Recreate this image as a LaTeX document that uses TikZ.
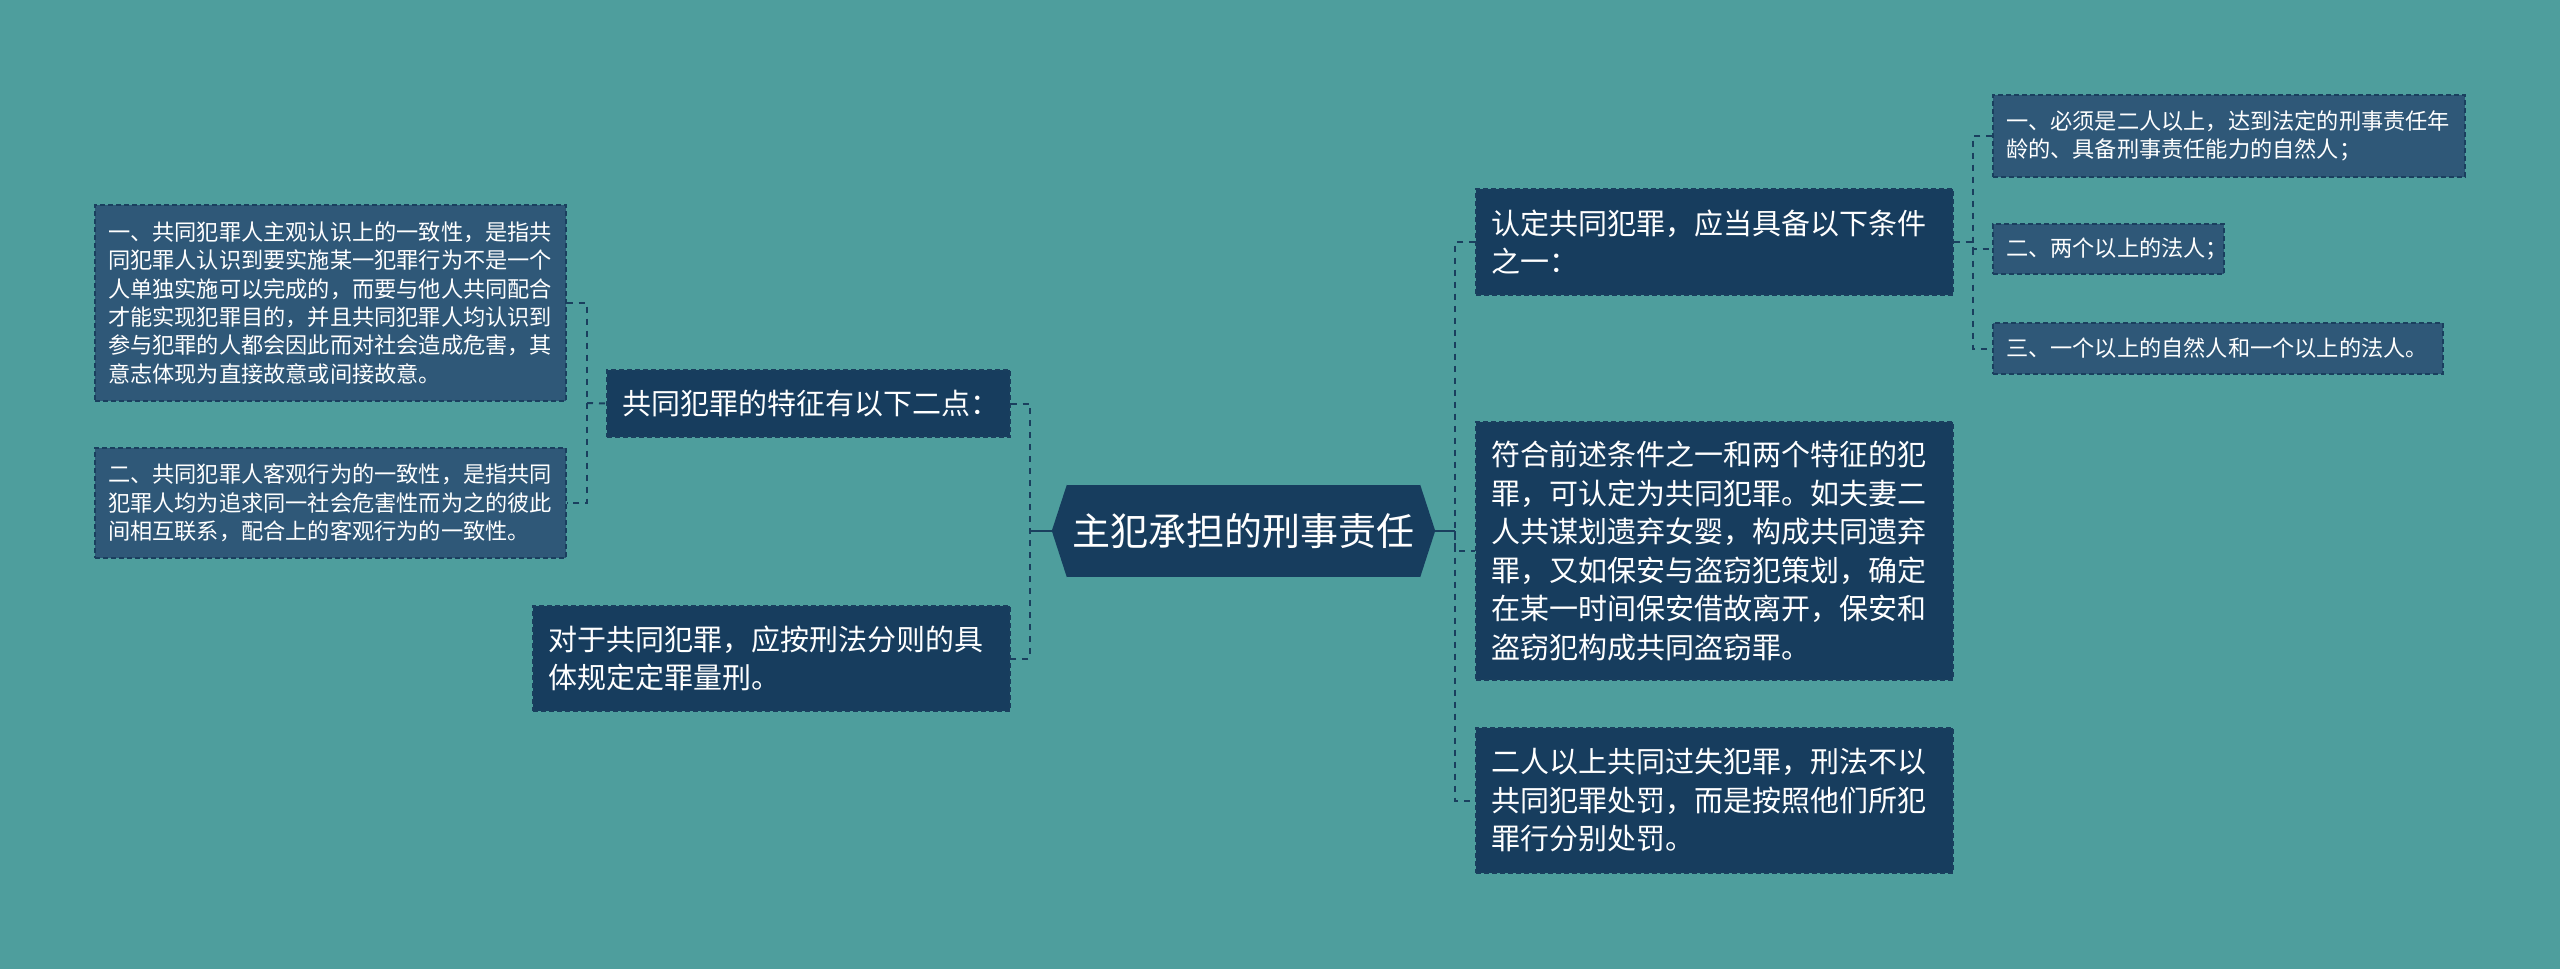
\documentclass[tikz,border=0pt]{standalone}
\usepackage{fontspec}
\setmainfont{Noto Sans CJK SC}

\definecolor{fondo}{HTML}{4E9E9D}
\definecolor{marino}{HTML}{173D5E}
\definecolor{hoja}{HTML}{2F5878}
\definecolor{linea}{HTML}{1A3F5E}

\begin{document}
\begin{tikzpicture}[x=1pt, y=-1pt,
    ramabox/.style={rectangle, fill=marino, draw=linea, line width=1.2pt, dash pattern=on 5pt off 3pt,
        text=white, align=left, inner xsep=15pt, inner ysep=0pt, font=\fontsize{29}{38.5}\selectfont},
    hojabox/.style={rectangle, fill=hoja, draw=linea, line width=1.2pt, dash pattern=on 5pt off 3pt,
        text=white, align=left, inner xsep=13pt, inner ysep=0pt, font=\fontsize{22.2}{28.3}\selectfont},
    enlace/.style={draw=linea, line width=2pt, dash pattern=on 6pt off 6pt},
    tronco/.style={draw=linea, line width=2.5pt}]

    % Fondo
    \fill[fondo] (0,0) rectangle (2560,969);
    \useasboundingbox (0,0) rectangle (2560,969);

    % Nodo central
    \node (root) [fill=marino, text=white, minimum width=353pt, minimum height=92pt, inner sep=0pt,
        font=\fontsize{38}{44}\selectfont] at (1243.5,531) {主犯承担的刑事责任};
    \fill[marino] (root.north west) -- ++(-15,46) -- (root.south west) -- cycle;
    \fill[marino] (root.north east) -- ++(15,46) -- (root.south east) -- cycle;
    \coordinate (rootL) at ([xshift=-15pt]root.west);
    \coordinate (rootR) at ([xshift=15pt]root.east);

    % Ramas izquierdas
    \node (rasgos) [ramabox, text width=373pt, minimum height=67pt] at (808.5,403.5) {共同犯罪的特征有以下二点：};
    \node (pena) [ramabox, text width=447pt, minimum height=105pt] at (771.5,658.5)
        {对于共同犯罪，应按刑法分则的具\\体规定定罪量刑。};

    % Hojas izquierdas
    \node (subj) [hojabox, text width=445pt, minimum height=196pt] at (330.5,303)
        {一、共同犯罪人主观认识上的一致性，是指共\\同犯罪人认识到要实施某一犯罪行为不是一个\\人单独实施可以完成的，而要与他人共同配合\\才能实现犯罪目的，并且共同犯罪人均认识到\\参与犯罪的人都会因此而对社会造成危害，其\\意志体现为直接故意或间接故意。};
    \node (obj) [hojabox, text width=445pt, minimum height=110pt] at (330.5,503)
        {二、共同犯罪人客观行为的一致性，是指共同\\犯罪人均为追求同一社会危害性而为之的彼此\\间相互联系，配合上的客观行为的一致性。};

    % Ramas derechas
    \node (cond) [ramabox, text width=447pt, minimum height=106pt] at (1714.5,242)
        {认定共同犯罪，应当具备以下条件\\之一：};
    \node (ejemplo) [ramabox, text width=447pt, minimum height=258pt] at (1714.5,551)
        {符合前述条件之一和两个特征的犯\\罪，可认定为共同犯罪。如夫妻二\\人共谋划遗弃女婴，构成共同遗弃\\罪，又如保安与盗窃犯策划，确定\\在某一时间保安借故离开，保安和\\盗窃犯构成共同盗窃罪。};
    \node (culpa) [ramabox, text width=447pt, minimum height=145pt] at (1714.5,800.5)
        {二人以上共同过失犯罪，刑法不以\\共同犯罪处罚，而是按照他们所犯\\罪行分别处罚。};

    % Hojas derechas
    \node (cond1) [hojabox, text width=446pt, minimum height=82pt] at (2229,136)
        {一、必须是二人以上，达到法定的刑事责任年\\龄的、具备刑事责任能力的自然人；};
    \node (cond2) [hojabox, text width=205pt, minimum height=50pt] at (2108.5,249) {二、两个以上的法人；};
    \node (cond3) [hojabox, text width=424pt, minimum height=51pt] at (2218,348.5) {三、一个以上的自然人和一个以上的法人。};

    % Uniones
    \coordinate (lj) at (1030,531);
    \coordinate (rj) at (1455,531);
    \coordinate (aj) at (587,403);
    \coordinate (cj) at (1973,242);

    % Conectores
    \draw[tronco] (rootL) -- (lj);
    \draw[tronco] (rootR) -- (rj);
    \draw[enlace] (rasgos.east) -| (lj) |- (pena.east);
    \draw[enlace] (cond.west) -| (rj) |- (culpa.west);
    \draw[enlace] (rj) |- (ejemplo.west);
    \draw[enlace] (subj.east) -| (aj) |- (obj.east);
    \draw[enlace] (aj) -- (rasgos.west);
    \draw[enlace] (cond1.west) -| (cj) |- (cond3.west);
    \draw[enlace] (cond.east) -- (cj) |- (cond2.west);
\end{tikzpicture}
\end{document}
